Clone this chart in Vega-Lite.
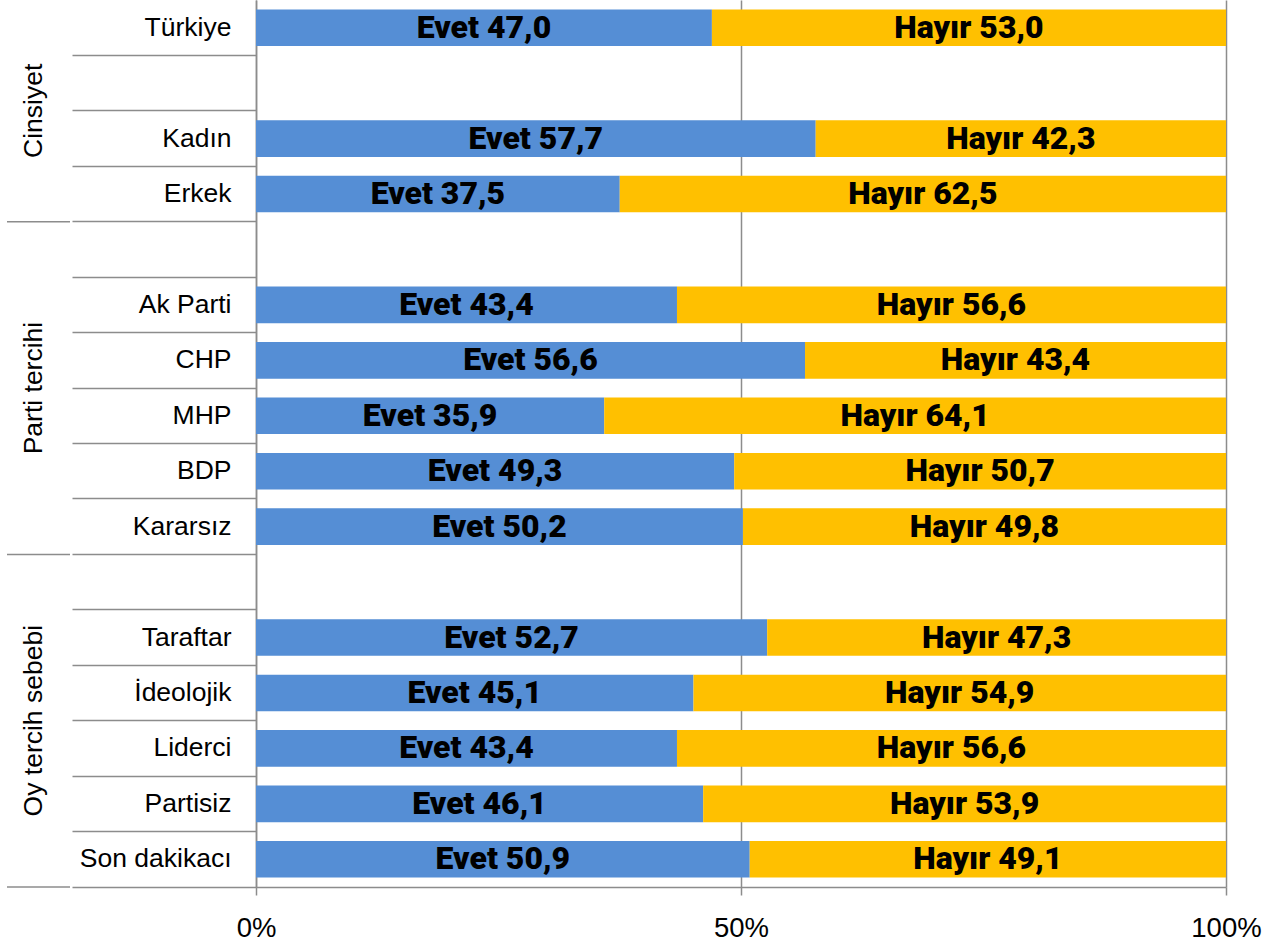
{
  "$schema": "https://vega.github.io/schema/vega-lite/v6.json",
  "padding": {"left": 6, "top": 0, "right": 0, "bottom": 0},
  "spacing": 0,
  "config": {"view": {"stroke": null}},
  "hconcat": [
    {
      "width": 63,
      "height": 887,
      "data": {"values": [
        {"group": "Cinsiyet", "mid": 2, "end": 4},
        {"group": "Parti tercihi", "mid": 7, "end": 10},
        {"group": "Oy tercih sebebi", "mid": 13, "end": 16}
      ]},
      "layer": [
        {
          "mark": {"type": "rule", "color": "#8c8c8c", "strokeWidth": 1.5},
          "encoding": {"y": {"field": "end", "type": "quantitative", "scale": {"domain": [0, 16], "reverse": true}, "axis": null}}
        },
        {
          "mark": {"type": "text", "angle": 270, "font": "Liberation Sans", "fontSize": 26.5, "color": "black", "dy": -5},
          "encoding": {
            "y": {"field": "mid", "type": "quantitative", "axis": null},
            "text": {"field": "group"}
          }
        }
      ]
    },
    {
      "width": 970,
      "height": 887,
      "data": {"values": [
        {"cat": "Türkiye", "answer": "Evet", "value": 47.0, "label": "Evet 47,0"},
        {"cat": "Türkiye", "answer": "Hayır", "value": 53.0, "label": "Hayır 53,0"},
        {"cat": "Kadın", "answer": "Evet", "value": 57.7, "label": "Evet 57,7"},
        {"cat": "Kadın", "answer": "Hayır", "value": 42.3, "label": "Hayır 42,3"},
        {"cat": "Erkek", "answer": "Evet", "value": 37.5, "label": "Evet 37,5"},
        {"cat": "Erkek", "answer": "Hayır", "value": 62.5, "label": "Hayır 62,5"},
        {"cat": "Ak Parti", "answer": "Evet", "value": 43.4, "label": "Evet 43,4"},
        {"cat": "Ak Parti", "answer": "Hayır", "value": 56.6, "label": "Hayır 56,6"},
        {"cat": "CHP", "answer": "Evet", "value": 56.6, "label": "Evet 56,6"},
        {"cat": "CHP", "answer": "Hayır", "value": 43.4, "label": "Hayır 43,4"},
        {"cat": "MHP", "answer": "Evet", "value": 35.9, "label": "Evet 35,9"},
        {"cat": "MHP", "answer": "Hayır", "value": 64.1, "label": "Hayır 64,1"},
        {"cat": "BDP", "answer": "Evet", "value": 49.3, "label": "Evet 49,3"},
        {"cat": "BDP", "answer": "Hayır", "value": 50.7, "label": "Hayır 50,7"},
        {"cat": "Kararsız", "answer": "Evet", "value": 50.2, "label": "Evet 50,2"},
        {"cat": "Kararsız", "answer": "Hayır", "value": 49.8, "label": "Hayır 49,8"},
        {"cat": "Taraftar", "answer": "Evet", "value": 52.7, "label": "Evet 52,7"},
        {"cat": "Taraftar", "answer": "Hayır", "value": 47.3, "label": "Hayır 47,3"},
        {"cat": "İdeolojik", "answer": "Evet", "value": 45.1, "label": "Evet 45,1"},
        {"cat": "İdeolojik", "answer": "Hayır", "value": 54.9, "label": "Hayır 54,9"},
        {"cat": "Liderci", "answer": "Evet", "value": 43.4, "label": "Evet 43,4"},
        {"cat": "Liderci", "answer": "Hayır", "value": 56.6, "label": "Hayır 56,6"},
        {"cat": "Partisiz", "answer": "Evet", "value": 46.1, "label": "Evet 46,1"},
        {"cat": "Partisiz", "answer": "Hayır", "value": 53.9, "label": "Hayır 53,9"},
        {"cat": "Son dakikacı", "answer": "Evet", "value": 50.9, "label": "Evet 50,9"},
        {"cat": "Son dakikacı", "answer": "Hayır", "value": 49.1, "label": "Hayır 49,1"}
      ]},
      "encoding": {
        "y": {
          "field": "cat", "type": "nominal", "title": null,
          "scale": {
            "domain": ["Türkiye", " ", "Kadın", "Erkek", "  ", "Ak Parti", "CHP", "MHP", "BDP", "Kararsız", "   ", "Taraftar", "İdeolojik", "Liderci", "Partisiz", "Son dakikacı"],
            "paddingInner": 0, "paddingOuter": 0
          },
          "axis": {
            "bandPosition": 1, "tickExtra": false,
            "tickSize": 184, "tickColor": "#8c8c8c", "tickWidth": 1.5,
            "domainColor": "#8c8c8c", "domainWidth": 1.5,
            "labelPadding": -159, "labelFont": "Liberation Sans", "labelFontSize": 26.5,
            "labelColor": "black", "labelLimit": 300, "grid": false
          }
        },
        "x": {
          "field": "value", "type": "quantitative", "stack": "zero", "title": null,
          "scale": {"domain": [0, 100]},
          "axis": {
            "values": [0, 50, 100], "labelExpr": "datum.value + '%'",
            "grid": true, "gridColor": "#8c8c8c", "gridWidth": 1.5,
            "domainColor": "#8c8c8c", "domainWidth": 1.5,
            "tickColor": "#8c8c8c", "tickWidth": 1.5, "tickSize": 8,
            "labelFont": "Liberation Sans", "labelFontSize": 27.5, "labelColor": "black",
            "labelPadding": 19, "labelFlush": false
          }
        }
      },
      "layer": [
        {
          "mark": {"type": "bar", "height": {"band": 0.66}},
          "encoding": {
            "color": {"field": "answer", "type": "nominal", "legend": null,
              "scale": {"domain": ["Evet", "Hayır"], "range": ["#558ED5", "#FFC000"]}}
          }
        },
        {
          "mark": {"type": "text", "font": "Roboto", "fontWeight": 900, "fontSize": 32, "color": "black"},
          "encoding": {
            "detail": {"field": "answer"},
            "x": {"field": "value", "type": "quantitative", "stack": "zero", "bandPosition": 0.5},
            "text": {"field": "label"}
          }
        }
      ]
    }
  ]
}
